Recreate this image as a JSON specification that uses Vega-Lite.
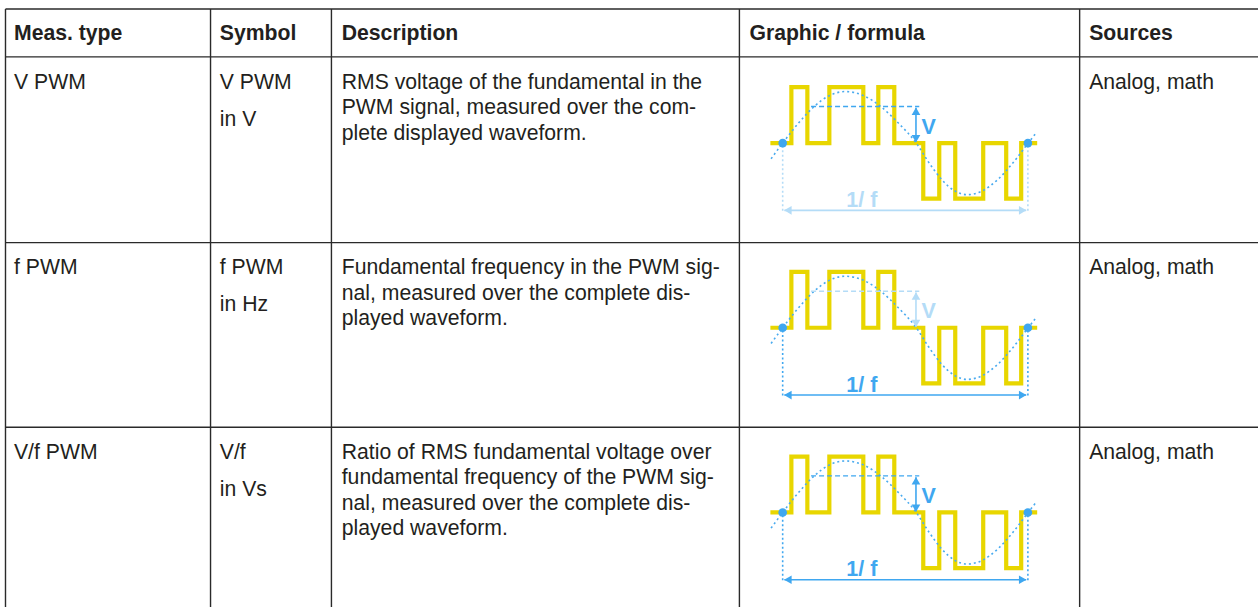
{
  "$schema": "https://vega.github.io/schema/vega-lite/v6.json",
  "width": 1259,
  "height": 608,
  "padding": 0,
  "autosize": {"type": "fit", "contains": "padding"},
  "background": "white",
  "config": {"view": {"stroke": null}, "axis": {"grid": false}},
  "datasets": {
    "grid": [
      {"x": 5.5, "y": 9, "x2": 1259, "y2": 9},
      {"x": 5.5, "y": 57, "x2": 1259, "y2": 57},
      {"x": 5.5, "y": 243, "x2": 1259, "y2": 243},
      {"x": 5.5, "y": 428, "x2": 1259, "y2": 428},
      {"x": 5.5, "y": 9, "x2": 5.5, "y2": 608},
      {"x": 210.7, "y": 9, "x2": 210.7, "y2": 608},
      {"x": 331.7, "y": 9, "x2": 331.7, "y2": 608},
      {"x": 740, "y": 9, "x2": 740, "y2": 608},
      {"x": 1080.5, "y": 9, "x2": 1080.5, "y2": 608}
    ],
    "head": [
      {"x": 14, "y": 40, "t": "Meas. type"},
      {"x": 220, "y": 40, "t": "Symbol"},
      {"x": 342, "y": 40, "t": "Description"},
      {"x": 750, "y": 40, "t": "Graphic / formula"},
      {"x": 1090, "y": 40, "t": "Sources"}
    ],
    "body": [
      {"x": 14, "y": 89, "t": "V PWM"},
      {"x": 220, "y": 89, "t": "V PWM"},
      {"x": 220, "y": 126, "t": "in V"},
      {"x": 342, "y": 89, "t": "RMS voltage of the fundamental in the"},
      {"x": 342, "y": 114.6, "t": "PWM signal, measured over the com-"},
      {"x": 342, "y": 140.2, "t": "plete displayed waveform."},
      {"x": 1090, "y": 89, "t": "Analog, math"},
      {"x": 14, "y": 274.5, "t": "f PWM"},
      {"x": 220, "y": 274.5, "t": "f PWM"},
      {"x": 220, "y": 311.5, "t": "in Hz"},
      {"x": 342, "y": 274.5, "t": "Fundamental frequency in the PWM sig-"},
      {"x": 342, "y": 300.1, "t": "nal, measured over the complete dis-"},
      {"x": 342, "y": 325.7, "t": "played waveform."},
      {"x": 1090, "y": 274.5, "t": "Analog, math"},
      {"x": 14, "y": 459.5, "t": "V/f PWM"},
      {"x": 220, "y": 459.5, "t": "V/f"},
      {"x": 220, "y": 496.5, "t": "in Vs"},
      {"x": 342, "y": 459.5, "t": "Ratio of RMS fundamental voltage over"},
      {"x": 342, "y": 485.1, "t": "fundamental frequency of the PWM sig-"},
      {"x": 342, "y": 510.7, "t": "nal, measured over the complete dis-"},
      {"x": 342, "y": 536.3, "t": "played waveform."},
      {"x": 1090, "y": 459.5, "t": "Analog, math"}
    ],
    "square": [
      {"g": 1, "i": 1, "x": 771, "y": 143.3}, {"g": 1, "i": 2, "x": 792, "y": 143.3}, {"g": 1, "i": 3, "x": 792, "y": 87.3}, {"g": 1, "i": 4, "x": 808, "y": 87.3},
      {"g": 1, "i": 5, "x": 808, "y": 143.3}, {"g": 1, "i": 6, "x": 830, "y": 143.3}, {"g": 1, "i": 7, "x": 830, "y": 87.3}, {"g": 1, "i": 8, "x": 864, "y": 87.3},
      {"g": 1, "i": 9, "x": 864, "y": 143.3}, {"g": 1, "i": 10, "x": 879, "y": 143.3}, {"g": 1, "i": 11, "x": 879, "y": 87.3}, {"g": 1, "i": 12, "x": 895, "y": 87.3},
      {"g": 1, "i": 13, "x": 895, "y": 143.3}, {"g": 1, "i": 14, "x": 924, "y": 143.3}, {"g": 1, "i": 15, "x": 924, "y": 199}, {"g": 1, "i": 16, "x": 940, "y": 199},
      {"g": 1, "i": 17, "x": 940, "y": 143.3}, {"g": 1, "i": 18, "x": 956, "y": 143.3}, {"g": 1, "i": 19, "x": 956, "y": 199}, {"g": 1, "i": 20, "x": 984, "y": 199},
      {"g": 1, "i": 21, "x": 984, "y": 143.3}, {"g": 1, "i": 22, "x": 1007, "y": 143.3}, {"g": 1, "i": 23, "x": 1007, "y": 199}, {"g": 1, "i": 24, "x": 1022, "y": 199},
      {"g": 1, "i": 25, "x": 1022, "y": 143.3}, {"g": 1, "i": 26, "x": 1038, "y": 143.3},
      {"g": 2, "i": 1, "x": 771, "y": 328.3}, {"g": 2, "i": 2, "x": 792, "y": 328.3}, {"g": 2, "i": 3, "x": 792, "y": 272.3}, {"g": 2, "i": 4, "x": 808, "y": 272.3},
      {"g": 2, "i": 5, "x": 808, "y": 328.3}, {"g": 2, "i": 6, "x": 830, "y": 328.3}, {"g": 2, "i": 7, "x": 830, "y": 272.3}, {"g": 2, "i": 8, "x": 864, "y": 272.3},
      {"g": 2, "i": 9, "x": 864, "y": 328.3}, {"g": 2, "i": 10, "x": 879, "y": 328.3}, {"g": 2, "i": 11, "x": 879, "y": 272.3}, {"g": 2, "i": 12, "x": 895, "y": 272.3},
      {"g": 2, "i": 13, "x": 895, "y": 328.3}, {"g": 2, "i": 14, "x": 924, "y": 328.3}, {"g": 2, "i": 15, "x": 924, "y": 384}, {"g": 2, "i": 16, "x": 940, "y": 384},
      {"g": 2, "i": 17, "x": 940, "y": 328.3}, {"g": 2, "i": 18, "x": 956, "y": 328.3}, {"g": 2, "i": 19, "x": 956, "y": 384}, {"g": 2, "i": 20, "x": 984, "y": 384},
      {"g": 2, "i": 21, "x": 984, "y": 328.3}, {"g": 2, "i": 22, "x": 1007, "y": 328.3}, {"g": 2, "i": 23, "x": 1007, "y": 384}, {"g": 2, "i": 24, "x": 1022, "y": 384},
      {"g": 2, "i": 25, "x": 1022, "y": 328.3}, {"g": 2, "i": 26, "x": 1038, "y": 328.3},
      {"g": 3, "i": 1, "x": 771, "y": 513.3}, {"g": 3, "i": 2, "x": 792, "y": 513.3}, {"g": 3, "i": 3, "x": 792, "y": 457.3}, {"g": 3, "i": 4, "x": 808, "y": 457.3},
      {"g": 3, "i": 5, "x": 808, "y": 513.3}, {"g": 3, "i": 6, "x": 830, "y": 513.3}, {"g": 3, "i": 7, "x": 830, "y": 457.3}, {"g": 3, "i": 8, "x": 864, "y": 457.3},
      {"g": 3, "i": 9, "x": 864, "y": 513.3}, {"g": 3, "i": 10, "x": 879, "y": 513.3}, {"g": 3, "i": 11, "x": 879, "y": 457.3}, {"g": 3, "i": 12, "x": 895, "y": 457.3},
      {"g": 3, "i": 13, "x": 895, "y": 513.3}, {"g": 3, "i": 14, "x": 924, "y": 513.3}, {"g": 3, "i": 15, "x": 924, "y": 569}, {"g": 3, "i": 16, "x": 940, "y": 569},
      {"g": 3, "i": 17, "x": 940, "y": 513.3}, {"g": 3, "i": 18, "x": 956, "y": 513.3}, {"g": 3, "i": 19, "x": 956, "y": 569}, {"g": 3, "i": 20, "x": 984, "y": 569},
      {"g": 3, "i": 21, "x": 984, "y": 513.3}, {"g": 3, "i": 22, "x": 1007, "y": 513.3}, {"g": 3, "i": 23, "x": 1007, "y": 569}, {"g": 3, "i": 24, "x": 1022, "y": 569},
      {"g": 3, "i": 25, "x": 1022, "y": 513.3}, {"g": 3, "i": 26, "x": 1038, "y": 513.3}
    ],
    "sine": [
      {"g": 1, "i": 1, "x": 771.7, "y": 159}, {"g": 1, "i": 2, "x": 783.3, "y": 143.3}, {"g": 1, "i": 3, "x": 799, "y": 123.5}, {"g": 1, "i": 4, "x": 814.7, "y": 106.8},
      {"g": 1, "i": 5, "x": 830.3, "y": 95.6}, {"g": 1, "i": 6, "x": 846, "y": 91.7}, {"g": 1, "i": 7, "x": 863.8, "y": 95.6}, {"g": 1, "i": 8, "x": 881.5, "y": 106.8},
      {"g": 1, "i": 9, "x": 899.3, "y": 123.5}, {"g": 1, "i": 10, "x": 917, "y": 143.3}, {"g": 1, "i": 11, "x": 929.8, "y": 163.1}, {"g": 1, "i": 12, "x": 942.5, "y": 179.9},
      {"g": 1, "i": 13, "x": 955.3, "y": 191.1}, {"g": 1, "i": 14, "x": 968, "y": 195}, {"g": 1, "i": 15, "x": 983.3, "y": 191.1}, {"g": 1, "i": 16, "x": 998.5, "y": 179.9},
      {"g": 1, "i": 17, "x": 1013.8, "y": 163.1}, {"g": 1, "i": 18, "x": 1029, "y": 143.3}, {"g": 1, "i": 19, "x": 1037, "y": 133},
      {"g": 2, "i": 1, "x": 771.7, "y": 344}, {"g": 2, "i": 2, "x": 783.3, "y": 328.3}, {"g": 2, "i": 3, "x": 799, "y": 308.5}, {"g": 2, "i": 4, "x": 814.7, "y": 291.8},
      {"g": 2, "i": 5, "x": 830.3, "y": 280.6}, {"g": 2, "i": 6, "x": 846, "y": 276.7}, {"g": 2, "i": 7, "x": 863.8, "y": 280.6}, {"g": 2, "i": 8, "x": 881.5, "y": 291.8},
      {"g": 2, "i": 9, "x": 899.3, "y": 308.5}, {"g": 2, "i": 10, "x": 917, "y": 328.3}, {"g": 2, "i": 11, "x": 929.8, "y": 348.1}, {"g": 2, "i": 12, "x": 942.5, "y": 364.9},
      {"g": 2, "i": 13, "x": 955.3, "y": 376.1}, {"g": 2, "i": 14, "x": 968, "y": 380}, {"g": 2, "i": 15, "x": 983.3, "y": 376.1}, {"g": 2, "i": 16, "x": 998.5, "y": 364.9},
      {"g": 2, "i": 17, "x": 1013.8, "y": 348.1}, {"g": 2, "i": 18, "x": 1029, "y": 328.3}, {"g": 2, "i": 19, "x": 1037, "y": 318},
      {"g": 3, "i": 1, "x": 771.7, "y": 529}, {"g": 3, "i": 2, "x": 783.3, "y": 513.3}, {"g": 3, "i": 3, "x": 799, "y": 493.5}, {"g": 3, "i": 4, "x": 814.7, "y": 476.8},
      {"g": 3, "i": 5, "x": 830.3, "y": 465.6}, {"g": 3, "i": 6, "x": 846, "y": 461.7}, {"g": 3, "i": 7, "x": 863.8, "y": 465.6}, {"g": 3, "i": 8, "x": 881.5, "y": 476.8},
      {"g": 3, "i": 9, "x": 899.3, "y": 493.5}, {"g": 3, "i": 10, "x": 917, "y": 513.3}, {"g": 3, "i": 11, "x": 929.8, "y": 533.1}, {"g": 3, "i": 12, "x": 942.5, "y": 549.9},
      {"g": 3, "i": 13, "x": 955.3, "y": 561.1}, {"g": 3, "i": 14, "x": 968, "y": 565}, {"g": 3, "i": 15, "x": 983.3, "y": 561.1}, {"g": 3, "i": 16, "x": 998.5, "y": 549.9},
      {"g": 3, "i": 17, "x": 1013.8, "y": 533.1}, {"g": 3, "i": 18, "x": 1029, "y": 513.3}, {"g": 3, "i": 19, "x": 1037, "y": 503}
    ],
    "dots": [
      {"x": 783.3, "y": 143.3}, {"x": 1028.7, "y": 143.3},
      {"x": 783.3, "y": 328.3}, {"x": 1028.7, "y": 328.3},
      {"x": 783.3, "y": 513.3}, {"x": 1028.7, "y": 513.3}
    ],
    "lines": [
      {"kind": "dash", "tone": "dark", "x": 811.7, "y": 106.7, "x2": 920, "y2": 106.7},
      {"kind": "solid", "tone": "dark", "x": 916.7, "y": 108, "x2": 916.7, "y2": 142},
      {"kind": "dot", "tone": "light", "x": 783.3, "y": 146, "x2": 783.3, "y2": 212},
      {"kind": "dot", "tone": "light", "x": 1028.7, "y": 146, "x2": 1028.7, "y2": 212},
      {"kind": "solid", "tone": "light", "x": 785, "y": 210.7, "x2": 1027, "y2": 210.7},
      {"kind": "dash", "tone": "light", "x": 811.7, "y": 291.7, "x2": 920, "y2": 291.7},
      {"kind": "solid", "tone": "light", "x": 916.7, "y": 293, "x2": 916.7, "y2": 327},
      {"kind": "dot", "tone": "dark", "x": 783.3, "y": 331, "x2": 783.3, "y2": 397},
      {"kind": "dot", "tone": "dark", "x": 1028.7, "y": 331, "x2": 1028.7, "y2": 397},
      {"kind": "solid", "tone": "dark", "x": 785, "y": 395.7, "x2": 1027, "y2": 395.7},
      {"kind": "dash", "tone": "dark", "x": 811.7, "y": 476.7, "x2": 920, "y2": 476.7},
      {"kind": "solid", "tone": "dark", "x": 916.7, "y": 478, "x2": 916.7, "y2": 512},
      {"kind": "dot", "tone": "dark", "x": 783.3, "y": 516, "x2": 783.3, "y2": 582},
      {"kind": "dot", "tone": "dark", "x": 1028.7, "y": 516, "x2": 1028.7, "y2": 582},
      {"kind": "solid", "tone": "dark", "x": 785, "y": 580.7, "x2": 1027, "y2": 580.7}
    ],
    "heads": [
      {"dir": "up", "tone": "dark", "x": 916.7, "y": 111.5},
      {"dir": "down", "tone": "dark", "x": 916.7, "y": 139},
      {"dir": "left", "tone": "light", "x": 788.5, "y": 210.7},
      {"dir": "right", "tone": "light", "x": 1023.5, "y": 210.7},
      {"dir": "up", "tone": "light", "x": 916.7, "y": 296.5},
      {"dir": "down", "tone": "light", "x": 916.7, "y": 324},
      {"dir": "left", "tone": "dark", "x": 788.5, "y": 395.7},
      {"dir": "right", "tone": "dark", "x": 1023.5, "y": 395.7},
      {"dir": "up", "tone": "dark", "x": 916.7, "y": 481.5},
      {"dir": "down", "tone": "dark", "x": 916.7, "y": 509},
      {"dir": "left", "tone": "dark", "x": 788.5, "y": 580.7},
      {"dir": "right", "tone": "dark", "x": 1023.5, "y": 580.7}
    ],
    "labels": [
      {"t": "V", "tone": "dark", "x": 929.5, "y": 134},
      {"t": "1/ f", "tone": "light", "x": 862.5, "y": 207.5},
      {"t": "V", "tone": "light", "x": 929.5, "y": 318.5},
      {"t": "1/ f", "tone": "dark", "x": 862.5, "y": 392.3},
      {"t": "V", "tone": "dark", "x": 929.5, "y": 503.5},
      {"t": "1/ f", "tone": "dark", "x": 862.5, "y": 577.3}
    ]
  },
  "encoding": {
    "x": {"field": "x", "type": "quantitative", "axis": null, "scale": {"domain": [0, 1259], "nice": false, "zero": false}},
    "y": {"field": "y", "type": "quantitative", "axis": null, "scale": {"domain": [0, 608], "nice": false, "zero": false, "reverse": true}}
  },
  "layer": [
    {
      "data": {"name": "grid"},
      "mark": {"type": "rule", "color": "#2a2a2a", "strokeWidth": 1.4},
      "encoding": {"x2": {"field": "x2"}, "y2": {"field": "y2"}}
    },
    {
      "data": {"name": "head"},
      "mark": {"type": "text", "align": "left", "baseline": "alphabetic", "font": "Liberation Sans", "fontSize": 21.2, "fontWeight": "bold", "color": "#231f20"},
      "encoding": {"text": {"field": "t"}}
    },
    {
      "data": {"name": "body"},
      "mark": {"type": "text", "align": "left", "baseline": "alphabetic", "font": "Liberation Sans", "fontSize": 21.2, "color": "#231f20"},
      "encoding": {"text": {"field": "t"}}
    },
    {
      "data": {"name": "lines"},
      "transform": [{"filter": "datum.kind === 'dot'"}],
      "mark": {"type": "rule", "strokeWidth": 1.6, "strokeDash": [2, 2.5]},
      "encoding": {"x2": {"field": "x2"}, "y2": {"field": "y2"}, "color": {"field": "tone", "type": "nominal", "legend": null, "scale": {"domain": ["dark", "light"], "range": ["#3fa7f0", "#b4dcf7"]}}}
    },
    {
      "data": {"name": "square"},
      "mark": {"type": "line", "color": "#e8d600", "strokeWidth": 4.2, "strokeJoin": "miter", "strokeCap": "butt"},
      "encoding": {"detail": {"field": "g"}, "order": {"field": "i", "type": "quantitative"}}
    },
    {
      "data": {"name": "sine"},
      "mark": {"type": "line", "color": "#4aabef", "strokeWidth": 1.6, "strokeDash": [2, 3], "interpolate": "monotone"},
      "encoding": {"detail": {"field": "g"}, "order": {"field": "i", "type": "quantitative"}}
    },
    {
      "data": {"name": "lines"},
      "transform": [{"filter": "datum.kind === 'dash'"}],
      "mark": {"type": "rule", "strokeWidth": 1.4, "strokeDash": [5, 3]},
      "encoding": {"x2": {"field": "x2"}, "y2": {"field": "y2"}, "color": {"field": "tone", "type": "nominal", "legend": null, "scale": {"domain": ["dark", "light"], "range": ["#3fa7f0", "#b4dcf7"]}}}
    },
    {
      "data": {"name": "lines"},
      "transform": [{"filter": "datum.kind === 'solid'"}],
      "mark": {"type": "rule", "strokeWidth": 1.6},
      "encoding": {"x2": {"field": "x2"}, "y2": {"field": "y2"}, "color": {"field": "tone", "type": "nominal", "legend": null, "scale": {"domain": ["dark", "light"], "range": ["#3fa7f0", "#b4dcf7"]}}}
    },
    {
      "data": {"name": "heads"},
      "mark": {"type": "point", "filled": true, "opacity": 1, "size": 75},
      "encoding": {
        "shape": {"field": "dir", "type": "nominal", "legend": null, "scale": {"domain": ["up", "down", "left", "right"], "range": ["triangle-up", "triangle-down", "triangle-left", "triangle-right"]}},
        "color": {"field": "tone", "type": "nominal", "legend": null, "scale": {"domain": ["dark", "light"], "range": ["#3fa7f0", "#b4dcf7"]}}
      }
    },
    {
      "data": {"name": "dots"},
      "mark": {"type": "point", "filled": true, "opacity": 1, "size": 75, "shape": "circle", "color": "#3fa7f0"}
    },
    {
      "data": {"name": "labels"},
      "mark": {"type": "text", "align": "center", "baseline": "alphabetic", "font": "Liberation Sans", "fontSize": 21.5, "fontWeight": "bold"},
      "encoding": {
        "text": {"field": "t"},
        "color": {"field": "tone", "type": "nominal", "legend": null, "scale": {"domain": ["dark", "light"], "range": ["#3fa7f0", "#b4dcf7"]}}
      }
    }
  ]
}
